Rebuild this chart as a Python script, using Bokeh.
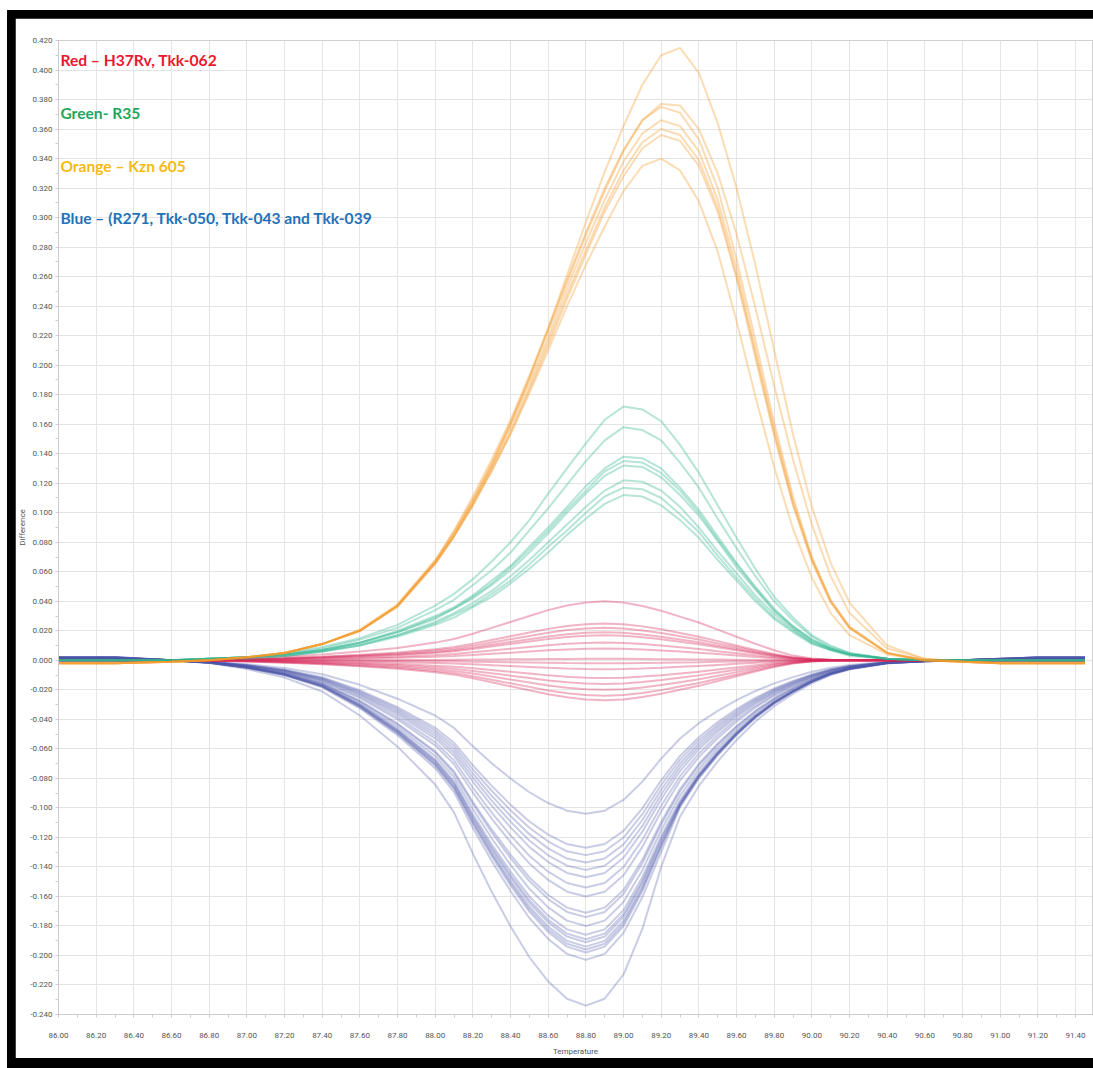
from bokeh.plotting import figure
from bokeh.layouts import column
from bokeh.models import Range1d, FixedTicker, NumeralTickFormatter, Label
from bokeh.embed import file_html
from bokeh.resources import INLINE

# Temperature (x) samples shared by every curve
temperature = [86.0, 86.3, 86.6, 86.8, 87.0, 87.2, 87.4, 87.6, 87.8, 88.0, 88.1, 88.2, 88.3, 88.4,
               88.5, 88.6, 88.7, 88.8, 88.9, 89.0, 89.1, 89.2, 89.3, 89.4, 89.5, 89.6, 89.7, 89.8,
               89.9, 90.0, 90.1, 90.2, 90.4, 90.6, 90.8, 91.0, 91.2, 91.45]

# Orange - Kzn 605
orange_1 = [-0.002, -0.002, -0.001, 0.000, 0.002, 0.005, 0.011, 0.020, 0.037, 0.066, 0.085, 0.107, 0.132, 0.160, 0.191, 0.225, 0.261, 0.297, 0.331, 0.362, 0.390, 0.410, 0.415, 0.398, 0.364, 0.320, 0.268, 0.210, 0.153, 0.104, 0.066, 0.039, 0.010, 0.001, -0.001, -0.002, -0.002, -0.002]
orange_2 = [-0.002, -0.002, -0.001, 0.000, 0.002, 0.005, 0.011, 0.020, 0.037, 0.067, 0.087, 0.109, 0.134, 0.161, 0.191, 0.223, 0.256, 0.288, 0.318, 0.345, 0.366, 0.377, 0.376, 0.360, 0.330, 0.289, 0.239, 0.186, 0.136, 0.092, 0.057, 0.032, 0.008, 0.001, -0.001, -0.002, -0.002, -0.002]
orange_3 = [-0.002, -0.002, -0.001, 0.000, 0.002, 0.005, 0.011, 0.021, 0.038, 0.068, 0.088, 0.111, 0.136, 0.163, 0.193, 0.225, 0.258, 0.290, 0.320, 0.346, 0.366, 0.375, 0.371, 0.353, 0.320, 0.272, 0.217, 0.161, 0.111, 0.070, 0.041, 0.023, 0.005, 0.000, -0.001, -0.002, -0.002, -0.002]
orange_4 = [-0.002, -0.002, -0.001, 0.000, 0.002, 0.005, 0.011, 0.020, 0.037, 0.067, 0.086, 0.108, 0.132, 0.159, 0.188, 0.219, 0.252, 0.283, 0.312, 0.338, 0.357, 0.366, 0.362, 0.345, 0.312, 0.266, 0.211, 0.157, 0.108, 0.069, 0.040, 0.022, 0.005, 0.000, -0.001, -0.002, -0.002, -0.002]
orange_5 = [-0.002, -0.002, -0.001, 0.000, 0.002, 0.005, 0.011, 0.020, 0.037, 0.066, 0.084, 0.106, 0.130, 0.156, 0.185, 0.216, 0.248, 0.278, 0.307, 0.332, 0.351, 0.360, 0.356, 0.339, 0.307, 0.261, 0.208, 0.154, 0.106, 0.068, 0.040, 0.022, 0.005, 0.000, -0.001, -0.002, -0.002, -0.002]
orange_6 = [-0.002, -0.002, -0.001, 0.000, 0.002, 0.005, 0.011, 0.020, 0.036, 0.065, 0.084, 0.105, 0.129, 0.154, 0.183, 0.213, 0.245, 0.275, 0.304, 0.328, 0.347, 0.356, 0.352, 0.335, 0.304, 0.259, 0.205, 0.152, 0.105, 0.067, 0.039, 0.022, 0.005, 0.000, -0.001, -0.002, -0.002, -0.002]
orange_7 = [-0.002, -0.002, -0.001, 0.000, 0.002, 0.005, 0.011, 0.020, 0.037, 0.066, 0.084, 0.105, 0.128, 0.153, 0.181, 0.210, 0.240, 0.268, 0.294, 0.318, 0.335, 0.340, 0.332, 0.311, 0.277, 0.230, 0.179, 0.131, 0.089, 0.056, 0.032, 0.017, 0.004, 0.000, -0.001, -0.002, -0.002, -0.002]

# Green - R35
green_1 = [0, 0, 0, 0.001, 0.002, 0.005, 0.009, 0.015, 0.024, 0.037, 0.045, 0.055, 0.067, 0.080, 0.095, 0.113, 0.130, 0.147, 0.163, 0.172, 0.170, 0.162, 0.146, 0.127, 0.105, 0.083, 0.062, 0.043, 0.029, 0.017, 0.010, 0.005, 0.001, 0, 0, 0, 0, 0]
green_2 = [0, 0, 0, 0.001, 0.002, 0.004, 0.008, 0.014, 0.022, 0.034, 0.041, 0.051, 0.061, 0.073, 0.088, 0.103, 0.119, 0.135, 0.149, 0.158, 0.156, 0.149, 0.134, 0.117, 0.096, 0.076, 0.057, 0.040, 0.027, 0.016, 0.009, 0.005, 0.001, 0, 0, 0, 0, 0]
green_3 = [0, 0, 0, 0.001, 0.002, 0.004, 0.007, 0.012, 0.020, 0.030, 0.036, 0.044, 0.054, 0.064, 0.077, 0.090, 0.104, 0.118, 0.130, 0.138, 0.137, 0.130, 0.117, 0.102, 0.084, 0.066, 0.050, 0.035, 0.023, 0.014, 0.008, 0.004, 0.001, 0, 0, 0, 0, 0]
green_4 = [0, 0, 0, 0.001, 0.002, 0.004, 0.007, 0.012, 0.019, 0.029, 0.035, 0.043, 0.052, 0.063, 0.075, 0.088, 0.102, 0.115, 0.128, 0.135, 0.134, 0.127, 0.115, 0.100, 0.082, 0.065, 0.049, 0.034, 0.023, 0.014, 0.008, 0.004, 0.001, 0, 0, 0, 0, 0]
green_5 = [0, 0, 0, 0.001, 0.002, 0.004, 0.007, 0.012, 0.019, 0.028, 0.035, 0.042, 0.051, 0.061, 0.073, 0.086, 0.100, 0.113, 0.125, 0.132, 0.131, 0.124, 0.112, 0.098, 0.081, 0.063, 0.048, 0.033, 0.022, 0.013, 0.008, 0.004, 0.001, 0, 0, 0, 0, 0]
green_6 = [0, 0, 0, 0.001, 0.002, 0.003, 0.006, 0.011, 0.017, 0.026, 0.032, 0.039, 0.047, 0.057, 0.068, 0.080, 0.092, 0.104, 0.115, 0.122, 0.121, 0.115, 0.104, 0.090, 0.074, 0.059, 0.044, 0.031, 0.021, 0.012, 0.007, 0.004, 0.001, 0, 0, 0, 0, 0]
green_7 = [0, 0, 0, 0.001, 0.002, 0.003, 0.006, 0.010, 0.017, 0.025, 0.031, 0.037, 0.045, 0.054, 0.065, 0.077, 0.088, 0.100, 0.111, 0.117, 0.116, 0.110, 0.099, 0.087, 0.071, 0.056, 0.042, 0.029, 0.020, 0.012, 0.007, 0.004, 0.001, 0, 0, 0, 0, 0]
green_8 = [0, 0, 0, 0.001, 0.001, 0.003, 0.006, 0.010, 0.016, 0.024, 0.029, 0.036, 0.043, 0.052, 0.062, 0.073, 0.085, 0.096, 0.106, 0.112, 0.111, 0.105, 0.095, 0.083, 0.068, 0.054, 0.040, 0.028, 0.019, 0.011, 0.007, 0.003, 0.001, 0, 0, 0, 0, 0]

# Red - H37Rv, Tkk-062
red_1 = [0, 0, 0, 0.0004, 0.0012, 0.0024, 0.004, 0.006, 0.0084, 0.012, 0.0144, 0.018, 0.022, 0.026, 0.030, 0.034, 0.0372, 0.0392, 0.040, 0.0392, 0.0368, 0.0336, 0.0296, 0.0256, 0.0208, 0.016, 0.0112, 0.0068, 0.0032, 0.0012, 0.0004, 0, 0, 0, 0, 0, 0, 0]
red_2 = [0, 0, 0, 0.0003, 0.0008, 0.0015, 0.0025, 0.0038, 0.0053, 0.0075, 0.009, 0.0113, 0.0138, 0.0163, 0.0188, 0.0213, 0.0233, 0.0245, 0.025, 0.0245, 0.023, 0.021, 0.0185, 0.016, 0.013, 0.01, 0.007, 0.0043, 0.002, 0.0008, 0.0003, 0, 0, 0, 0, 0, 0, 0]
red_3 = [0, 0, 0, 0.0002, 0.0007, 0.0013, 0.0022, 0.0033, 0.0046, 0.0066, 0.0079, 0.0099, 0.0121, 0.0143, 0.0165, 0.0187, 0.0205, 0.0216, 0.022, 0.0216, 0.0202, 0.0185, 0.0163, 0.0141, 0.0114, 0.0088, 0.0062, 0.0037, 0.0018, 0.0007, 0.0002, 0, 0, 0, 0, 0, 0, 0]
red_4 = [0, 0, 0, 0.0002, 0.0006, 0.0011, 0.0019, 0.0029, 0.004, 0.0057, 0.0068, 0.0086, 0.0105, 0.0124, 0.0143, 0.0162, 0.0177, 0.0186, 0.019, 0.0186, 0.0175, 0.016, 0.0141, 0.0122, 0.0099, 0.0076, 0.0053, 0.0032, 0.0015, 0.0006, 0.0002, 0, 0, 0, 0, 0, 0, 0]
red_5 = [0, 0, 0, 0.0002, 0.0005, 0.001, 0.0017, 0.0026, 0.0036, 0.0051, 0.0061, 0.0077, 0.0094, 0.0111, 0.0128, 0.0145, 0.0158, 0.0167, 0.017, 0.0167, 0.0156, 0.0143, 0.0126, 0.0109, 0.0088, 0.0068, 0.0048, 0.0029, 0.0014, 0.0005, 0.0002, 0, 0, 0, 0, 0, 0, 0]
red_6 = [0, 0, 0, 0.0001, 0.0004, 0.0007, 0.0012, 0.0018, 0.0025, 0.0036, 0.0043, 0.0054, 0.0066, 0.0078, 0.009, 0.0102, 0.0112, 0.0118, 0.012, 0.0118, 0.011, 0.0101, 0.0089, 0.0077, 0.0062, 0.0048, 0.0034, 0.002, 0.001, 0.0004, 0.0001, 0, 0, 0, 0, 0, 0, 0]
red_7 = [0, 0, 0, 0.0001, 0.0002, 0.0005, 0.0008, 0.0012, 0.0017, 0.0024, 0.0029, 0.0036, 0.0044, 0.0052, 0.006, 0.0068, 0.0074, 0.0078, 0.008, 0.0078, 0.0074, 0.0067, 0.0059, 0.0051, 0.0042, 0.0032, 0.0022, 0.0014, 0.0006, 0.0002, 0.0001, 0, 0, 0, 0, 0, 0, 0]
red_8 = [0, 0, 0, 0, 0, 0.0001, 0.0001, 0.0002, 0.0002, 0.0003, 0.0004, 0.0005, 0.0006, 0.0007, 0.0008, 0.0009, 0.0009, 0.001, 0.001, 0.001, 0.0009, 0.0008, 0.0007, 0.0006, 0.0005, 0.0004, 0.0003, 0.0002, 0.0001, 0, 0, 0, 0, 0, 0, 0, 0, 0]
red_9 = [0, 0, 0, 0, -0.0001, -0.0001, -0.0002, -0.0003, -0.0004, -0.0006, -0.0007, -0.0009, -0.0011, -0.0013, -0.0015, -0.0017, -0.0019, -0.002, -0.002, -0.002, -0.0018, -0.0017, -0.0015, -0.0013, -0.001, -0.0008, -0.0006, -0.0003, -0.0002, -0.0001, 0, 0, 0, 0, 0, 0, 0, 0]
red_10 = [0, 0, 0, -0.0001, -0.0002, -0.0004, -0.0006, -0.0009, -0.0013, -0.0018, -0.0022, -0.0027, -0.0033, -0.0039, -0.0045, -0.0051, -0.0056, -0.0059, -0.006, -0.0059, -0.0055, -0.005, -0.0044, -0.0038, -0.0031, -0.0024, -0.0017, -0.001, -0.0005, -0.0002, -0.0001, 0, 0, 0, 0, 0, 0, 0]
red_11 = [0, 0, 0, -0.0001, -0.0004, -0.0007, -0.0012, -0.0018, -0.0025, -0.0036, -0.0043, -0.0054, -0.0066, -0.0078, -0.009, -0.0102, -0.0112, -0.0118, -0.012, -0.0118, -0.011, -0.0101, -0.0089, -0.0077, -0.0062, -0.0048, -0.0034, -0.002, -0.001, -0.0004, -0.0001, 0, 0, 0, 0, 0, 0, 0]
red_12 = [0, 0, 0, -0.0002, -0.0005, -0.001, -0.0016, -0.0024, -0.0034, -0.0048, -0.0058, -0.0072, -0.0088, -0.0104, -0.012, -0.0136, -0.0149, -0.0157, -0.016, -0.0157, -0.0147, -0.0134, -0.0118, -0.0102, -0.0083, -0.0064, -0.0045, -0.0027, -0.0013, -0.0005, -0.0002, 0, 0, 0, 0, 0, 0, 0]
red_13 = [0, 0, 0, -0.0002, -0.0006, -0.0012, -0.002, -0.003, -0.0042, -0.006, -0.0072, -0.009, -0.011, -0.013, -0.015, -0.017, -0.0186, -0.0196, -0.02, -0.0196, -0.0184, -0.0168, -0.0148, -0.0128, -0.0104, -0.008, -0.0056, -0.0034, -0.0016, -0.0006, -0.0002, 0, 0, 0, 0, 0, 0, 0]
red_14 = [0, 0, 0, -0.0002, -0.0007, -0.0014, -0.0024, -0.0036, -0.005, -0.0072, -0.0086, -0.0108, -0.0132, -0.0156, -0.018, -0.0204, -0.0223, -0.0235, -0.024, -0.0235, -0.0221, -0.0202, -0.0178, -0.0154, -0.0125, -0.0096, -0.0067, -0.0041, -0.0019, -0.0007, -0.0002, 0, 0, 0, 0, 0, 0, 0]
red_15 = [0, 0, 0, -0.0003, -0.0008, -0.0016, -0.0027, -0.0041, -0.0057, -0.0081, -0.0097, -0.0122, -0.0149, -0.0176, -0.0203, -0.023, -0.0251, -0.0265, -0.027, -0.0265, -0.0248, -0.0227, -0.02, -0.0173, -0.014, -0.0108, -0.0076, -0.0046, -0.0022, -0.0008, -0.0003, 0, 0, 0, 0, 0, 0, 0]

# Blue - R271, Tkk-050, Tkk-043 and Tkk-039
blue_1 = [0.001, 0.001, 0, -0.0008, -0.0026, -0.0052, -0.0094, -0.0166, -0.026, -0.0374, -0.0458, -0.0582, -0.0697, -0.0801, -0.0894, -0.0967, -0.1019, -0.104, -0.1019, -0.0946, -0.0822, -0.0666, -0.053, -0.0426, -0.0343, -0.027, -0.0208, -0.0156, -0.0114, -0.0078, -0.005, -0.0031, -0.001, -0.0003, 0, 0.0005, 0.001, 0.001]
blue_2 = [0.0013, 0.0013, 0, -0.001, -0.0032, -0.0064, -0.0114, -0.0203, -0.0318, -0.0457, -0.0559, -0.0711, -0.0851, -0.0978, -0.1092, -0.1181, -0.1245, -0.127, -0.1245, -0.1156, -0.1003, -0.0813, -0.0648, -0.0521, -0.0419, -0.033, -0.0254, -0.0191, -0.014, -0.0095, -0.0061, -0.0038, -0.0013, -0.0004, 0, 0.0006, 0.0013, 0.0013]
blue_3 = [0.0013, 0.0013, 0, -0.0011, -0.0033, -0.0066, -0.0119, -0.0211, -0.033, -0.0475, -0.0581, -0.0739, -0.0884, -0.1016, -0.1135, -0.1228, -0.1294, -0.132, -0.1294, -0.1201, -0.1043, -0.0845, -0.0673, -0.0541, -0.0436, -0.0343, -0.0264, -0.0198, -0.0145, -0.0099, -0.0063, -0.004, -0.0013, -0.0004, 0, 0.0007, 0.0013, 0.0013]
blue_4 = [0.0014, 0.0014, 0, -0.0011, -0.0034, -0.0069, -0.0123, -0.0219, -0.0343, -0.0493, -0.0603, -0.0767, -0.0918, -0.1055, -0.1178, -0.1274, -0.1343, -0.137, -0.1343, -0.1247, -0.1082, -0.0877, -0.0699, -0.0562, -0.0452, -0.0356, -0.0274, -0.0206, -0.0151, -0.0103, -0.0066, -0.0041, -0.0014, -0.0004, 0, 0.0007, 0.0014, 0.0014]
blue_5 = [0.0014, 0.0014, 0, -0.0011, -0.0036, -0.0071, -0.0128, -0.0227, -0.0355, -0.0511, -0.0625, -0.0795, -0.0951, -0.1093, -0.1221, -0.1321, -0.1392, -0.142, -0.1392, -0.1292, -0.1122, -0.0909, -0.0724, -0.0582, -0.0469, -0.0369, -0.0284, -0.0213, -0.0156, -0.0107, -0.0068, -0.0043, -0.0014, -0.0004, 0, 0.0007, 0.0014, 0.0014]
blue_6 = [0.0015, 0.0015, 0, -0.0012, -0.0037, -0.0074, -0.0132, -0.0235, -0.0368, -0.0529, -0.0647, -0.0823, -0.0985, -0.1132, -0.1264, -0.1367, -0.1441, -0.147, -0.1441, -0.1338, -0.1161, -0.0941, -0.075, -0.0603, -0.0485, -0.0382, -0.0294, -0.0221, -0.0162, -0.011, -0.0071, -0.0044, -0.0015, -0.0004, 0, 0.0007, 0.0015, 0.0015]
blue_7 = [0.0015, 0.0015, 0, -0.0012, -0.0039, -0.0077, -0.0139, -0.0246, -0.0385, -0.0554, -0.0678, -0.0862, -0.1032, -0.1186, -0.1324, -0.1432, -0.1509, -0.154, -0.1509, -0.1401, -0.1217, -0.0986, -0.0785, -0.0631, -0.0508, -0.04, -0.0308, -0.0231, -0.0169, -0.0116, -0.0074, -0.0046, -0.0015, -0.0005, 0, 0.0008, 0.0015, 0.0015]
blue_8 = [0.0016, 0.0016, 0, -0.0013, -0.004, -0.008, -0.0144, -0.0256, -0.04, -0.0576, -0.0704, -0.0896, -0.1072, -0.1232, -0.1376, -0.1488, -0.1568, -0.16, -0.1568, -0.1456, -0.1264, -0.1024, -0.0816, -0.0656, -0.0528, -0.0416, -0.032, -0.024, -0.0176, -0.012, -0.0077, -0.0048, -0.0016, -0.0005, 0, 0.0008, 0.0016, 0.0016]
blue_9 = [0.0017, 0.0017, 0, -0.0014, -0.0043, -0.0086, -0.0154, -0.0274, -0.0428, -0.0616, -0.0752, -0.0958, -0.1146, -0.1317, -0.1471, -0.159, -0.1676, -0.171, -0.1676, -0.1556, -0.1351, -0.1094, -0.0872, -0.0701, -0.0564, -0.0445, -0.0342, -0.0257, -0.0188, -0.0128, -0.0082, -0.0051, -0.0017, -0.0005, 0, 0.0009, 0.0017, 0.0017]
blue_10 = [0.0017, 0.0017, 0, -0.0014, -0.0044, -0.0087, -0.0157, -0.0278, -0.0435, -0.0626, -0.0766, -0.0974, -0.1166, -0.134, -0.1496, -0.1618, -0.1705, -0.174, -0.1705, -0.1583, -0.1375, -0.1114, -0.0887, -0.0713, -0.0574, -0.0452, -0.0348, -0.0261, -0.0191, -0.0131, -0.0084, -0.0052, -0.0017, -0.0005, 0, 0.0009, 0.0017, 0.0017]
blue_11 = [0.0018, 0.0018, 0, -0.0014, -0.0045, -0.009, -0.0162, -0.0288, -0.045, -0.0648, -0.0792, -0.1008, -0.1206, -0.1386, -0.1548, -0.1674, -0.1764, -0.18, -0.1764, -0.1638, -0.1422, -0.1152, -0.0918, -0.0738, -0.0594, -0.0468, -0.036, -0.027, -0.0198, -0.0135, -0.0086, -0.0054, -0.0018, -0.0005, 0, 0.0009, 0.0018, 0.0018]
blue_12 = [0.0019, 0.0019, 0, -0.0015, -0.0047, -0.0093, -0.0167, -0.0298, -0.0465, -0.067, -0.0818, -0.1042, -0.1246, -0.1432, -0.16, -0.173, -0.1823, -0.186, -0.1823, -0.1693, -0.1469, -0.119, -0.0949, -0.0763, -0.0614, -0.0484, -0.0372, -0.0279, -0.0205, -0.014, -0.0089, -0.0056, -0.0019, -0.0006, 0, 0.0009, 0.0019, 0.0019]
blue_13 = [0.0019, 0.0019, 0, -0.0015, -0.0047, -0.0095, -0.017, -0.0302, -0.0473, -0.068, -0.0832, -0.1058, -0.1266, -0.1455, -0.1625, -0.1758, -0.1852, -0.189, -0.1852, -0.172, -0.1493, -0.121, -0.0964, -0.0775, -0.0624, -0.0491, -0.0378, -0.0284, -0.0208, -0.0142, -0.0091, -0.0057, -0.0019, -0.0006, 0, 0.0009, 0.0019, 0.0019]
blue_14 = [0.0019, 0.0019, 0, -0.0015, -0.0048, -0.0096, -0.0172, -0.0306, -0.0478, -0.0688, -0.084, -0.107, -0.128, -0.1471, -0.1643, -0.1776, -0.1872, -0.191, -0.1872, -0.1738, -0.1509, -0.1222, -0.0969, -0.0779, -0.0627, -0.0494, -0.038, -0.0285, -0.0209, -0.0143, -0.0091, -0.0057, -0.0019, -0.0006, 0, 0.001, 0.0019, 0.0019]
blue_15 = [0.0019, 0.0019, 0, -0.0016, -0.0049, -0.0097, -0.0175, -0.031, -0.0485, -0.0698, -0.0854, -0.1086, -0.13, -0.1494, -0.1668, -0.1804, -0.1901, -0.194, -0.1901, -0.1765, -0.1533, -0.1242, -0.0977, -0.0786, -0.0632, -0.0498, -0.0383, -0.0287, -0.0211, -0.0144, -0.0092, -0.0057, -0.0019, -0.0006, 0, 0.001, 0.0019, 0.0019]
blue_16 = [0.002, 0.002, 0, -0.0016, -0.0049, -0.0098, -0.0176, -0.0314, -0.049, -0.0706, -0.0862, -0.1098, -0.1313, -0.1509, -0.1686, -0.1823, -0.1921, -0.196, -0.1921, -0.1784, -0.1548, -0.1254, -0.0981, -0.0789, -0.0635, -0.05, -0.0385, -0.0289, -0.0212, -0.0144, -0.0092, -0.0058, -0.0019, -0.0006, 0, 0.001, 0.0019, 0.0019]
blue_17 = [0.002, 0.002, 0, -0.0016, -0.005, -0.0099, -0.0178, -0.0317, -0.0495, -0.0713, -0.0871, -0.1109, -0.1327, -0.1525, -0.1703, -0.1841, -0.194, -0.198, -0.194, -0.1802, -0.1564, -0.1267, -0.0985, -0.0792, -0.0638, -0.0502, -0.0386, -0.029, -0.0213, -0.0145, -0.0093, -0.0058, -0.0019, -0.0006, 0, 0.001, 0.0019, 0.0019]
blue_18 = [0.002, 0.002, 0, -0.0016, -0.0051, -0.0102, -0.0183, -0.0325, -0.0508, -0.0731, -0.0893, -0.1137, -0.136, -0.1563, -0.1746, -0.1888, -0.1989, -0.203, -0.1989, -0.1847, -0.1604, -0.1299, -0.0996, -0.08, -0.0644, -0.0508, -0.039, -0.0293, -0.0215, -0.0146, -0.0094, -0.0059, -0.002, -0.0006, 0, 0.001, 0.002, 0.002]
blue_19 = [0.0023, 0.0023, 0, -0.0019, -0.0059, -0.0117, -0.0211, -0.0374, -0.0585, -0.0842, -0.103, -0.131, -0.1568, -0.1802, -0.2012, -0.2176, -0.2293, -0.234, -0.2293, -0.2129, -0.182, -0.140, -0.1059, -0.0851, -0.0685, -0.054, -0.0415, -0.0311, -0.0228, -0.0156, -0.01, -0.0062, -0.0021, -0.0006, 0, 0.001, 0.0021, 0.0021]

orange_series = [orange_1, orange_2, orange_3, orange_4, orange_5, orange_6, orange_7]
green_series = [green_1, green_2, green_3, green_4, green_5, green_6, green_7, green_8]
red_series = [red_1, red_2, red_3, red_4, red_5, red_6, red_7, red_8, red_9, red_10, red_11,
              red_12, red_13, red_14, red_15]
blue_series = [blue_1, blue_2, blue_3, blue_4, blue_5, blue_6, blue_7, blue_8, blue_9, blue_10,
               blue_11, blue_12, blue_13, blue_14, blue_15, blue_16, blue_17, blue_18, blue_19]

legend_texts = ["Red \u2013 H37Rv, Tkk-062", "Green- R35", "Orange \u2013 Kzn 605",
                "Blue \u2013 (R271, Tkk-050, Tkk-043 and Tkk-039"]

p = figure(width=1078, height=1040, output_backend="svg", toolbar_location=None,
           x_range=Range1d(86.0, 91.49), y_range=Range1d(-0.24, 0.42),
           min_border_left=42, min_border_right=1, min_border_top=22, min_border_bottom=43)
p.margin = (8, 0, 10, 8)
p.background_fill_color = "white"
p.border_fill_color = "white"
p.outline_line_color = "#d0d0d0"

for s in blue_series:
    p.line(temperature, s, line_color="#4b55a8", line_alpha=0.3, line_width=2)
for s in red_series:
    p.line(temperature, s, line_color="#d8285a", line_alpha=0.35, line_width=2)
for s in green_series:
    p.line(temperature, s, line_color="#2fb58e", line_alpha=0.35, line_width=2)
for s in orange_series:
    p.line(temperature, s, line_color="#f39a2a", line_alpha=0.35, line_width=2)

p.xaxis.ticker = FixedTicker(ticks=[round(86.0 + 0.2 * i, 2) for i in range(28)],
                             minor_ticks=[round(86.0 + 0.1 * i, 2) for i in range(55)])
p.yaxis.ticker = FixedTicker(ticks=[round(-0.24 + 0.02 * i, 2) for i in range(34)],
                             minor_ticks=[round(-0.24 + 0.01 * i, 3) for i in range(67)])
p.xaxis.formatter = NumeralTickFormatter(format="0.00")
p.yaxis.formatter = NumeralTickFormatter(format="0.000")
for ax in (p.xaxis, p.yaxis):
    ax.axis_line_color = "#cccccc"
    ax.major_tick_line_color = "#cccccc"
    ax.minor_tick_line_color = "#cccccc"
    ax.major_tick_out = 0
    ax.major_tick_in = 0
    ax.minor_tick_out = 3
    ax.minor_tick_in = 0
    ax.major_label_text_font = "Roboto"
    ax.major_label_text_font_size = "8px"
    ax.major_label_text_color = "#555555"
    ax.axis_label_text_font = "Roboto"
    ax.axis_label_text_font_size = "8px"
    ax.axis_label_text_font_style = "normal"
    ax.axis_label_text_color = "#555555"
p.xaxis.axis_label = "Temperature"
p.yaxis.axis_label = "Difference"
p.xaxis.major_label_standoff = 15
p.yaxis.major_label_standoff = 3
p.xaxis.axis_label_standoff = 6
p.yaxis.axis_label_standoff = 0
p.xgrid.grid_line_color = "#e4e4e4"
p.ygrid.grid_line_color = "#e4e4e4"
p.xgrid.ticker = p.xaxis.ticker
p.ygrid.ticker = p.yaxis.ticker

legend_colors = ["#e8192c", "#1ea65c", "#f5bb12", "#1f72b8"]
legend_y = [0.407, 0.371, 0.335, 0.300]
for t, c, yy in zip(legend_texts, legend_colors, legend_y):
    p.add_layout(Label(x=86.01, y=yy, text=t, text_color=c, text_font="Lato",
                       text_font_style="bold", text_font_size="15.6px", text_baseline="middle"))

layout = column(p, margin=(10, 0, 0, 7), styles={"background-color": "black"})
open("out.html", "w").write(file_html(layout, INLINE))
